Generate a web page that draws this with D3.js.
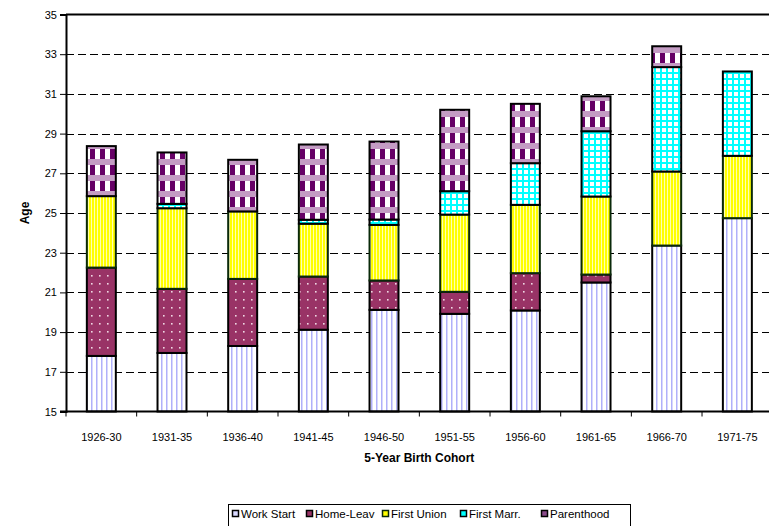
<!DOCTYPE html>
<html>
<head>
<meta charset="utf-8">
<script src="https://cdn.jsdelivr.net/npm/d3@7"></script>
<style>
  body { margin: 0; background: #fff; }
  svg { display: block; font-family: "Liberation Sans", Arial, sans-serif; }
</style>
</head>
<body>
<div id="chart"></div>
<script>
// data (segment lengths in years, stacked)
const cohorts = ['1926-30', '1931-35', '1936-40', '1941-45', '1946-50', '1951-55', '1956-60', '1961-65', '1966-70', '1971-75'];
const workStart  = [17.8, 17.95, 18.3, 19.12, 20.12, 19.92, 20.09, 21.5, 23.36, 24.74];
const homeLeave  = [4.45, 3.23, 3.38, 2.68, 1.48, 1.11, 1.88, 0.4, 0, 0];
const firstUnion = [3.6, 4.06, 3.4, 2.66, 2.8, 3.89, 3.44, 3.93, 3.73, 3.14];
const firstMarr  = [0, 0.22, 0, 0.2, 0.27, 1.18, 2.1, 3.29, 5.26, 4.25];
const parenthood = [2.52, 2.59, 2.6, 3.79, 3.93, 4.1, 2.99, 1.76, 1.05, 0];
const seriesNames = ['Work Start', 'Home-Leav', 'First Union', 'First Marr.', 'Parenthood'];
const yTicks = [15, 17, 19, 21, 23, 25, 27, 29, 31, 33, 35];

const width = 769, height = 526;
const margin = { top: 14.5, left: 66, bottom: 411.5, right: 772.7 };

const rows = cohorts.map((c, i) => ({
  cohort: c,
  'Work Start': workStart[i],
  'Home-Leav': homeLeave[i],
  'First Union': firstUnion[i],
  'First Marr.': firstMarr[i],
  'Parenthood': parenthood[i]
}));

const svg = d3.select('#chart').append('svg')
  .attr('width', width)
  .attr('height', height);

// fill patterns
const defs = svg.append('defs');

let p = defs.append('pattern').attr('id', 'pat0').attr('patternUnits', 'userSpaceOnUse')
  .attr('width', 5).attr('height', 5);
p.append('rect').attr('width', 5).attr('height', 5).attr('fill', '#fff');
p.append('rect').attr('x', 1).attr('width', 1.5).attr('height', 5).attr('fill', '#b0b0fa');

p = defs.append('pattern').attr('id', 'pat1').attr('patternUnits', 'userSpaceOnUse')
  .attr('width', 8).attr('height', 8);
p.append('rect').attr('width', 8).attr('height', 8).attr('fill', '#993366');
p.append('rect').attr('x', 3).attr('y', 3).attr('width', 1.6).attr('height', 1.6).attr('fill', '#f0d8e4');

p = defs.append('pattern').attr('id', 'pat2').attr('patternUnits', 'userSpaceOnUse')
  .attr('width', 3).attr('height', 3);
p.append('rect').attr('width', 3).attr('height', 3).attr('fill', '#ffff00');
p.append('rect').attr('x', 1).attr('width', 1).attr('height', 3).attr('fill', '#ffffb0');

p = defs.append('pattern').attr('id', 'pat3').attr('patternUnits', 'userSpaceOnUse')
  .attr('width', 6).attr('height', 6);
p.append('rect').attr('width', 6).attr('height', 6).attr('fill', '#00ffff');
p.append('rect').attr('x', 2).attr('y', 2).attr('width', 4).attr('height', 4).attr('fill', '#fff');

p = defs.append('pattern').attr('id', 'pat4').attr('patternUnits', 'userSpaceOnUse')
  .attr('width', 10).attr('height', 16);
p.append('rect').attr('width', 10).attr('height', 16).attr('fill', '#c49cc4');
p.append('rect').attr('y', 5).attr('width', 5).attr('height', 10).attr('fill', '#660066');
p.append('rect').attr('x', 5).attr('y', 5).attr('width', 5).attr('height', 10).attr('fill', '#fff');

const fills = ['url(#pat0)', 'url(#pat1)', 'url(#pat2)', 'url(#pat3)', 'url(#pat4)'];
const strokes = ['#000', '#000', '#0a2a0a', '#000', '#000'];
const swatchFills = ['#d8d8ff', '#993366', '#ffff00', '#00ffff', '#8a4a8a'];

// scales
const x = d3.scaleBand().domain(cohorts).range([margin.left, margin.right])
  .paddingInner(0.59).paddingOuter(0.295);
const y = d3.scaleLinear().domain([15, 35]).range([margin.bottom, margin.top]);

// gridlines
svg.append('g')
  .selectAll('line')
  .data(yTicks.filter(t => t > 15 && t < 35))
  .join('line')
  .attr('x1', margin.left).attr('x2', width)
  .attr('y1', d => Math.round(y(d)) + 0.5).attr('y2', d => Math.round(y(d)) + 0.5)
  .attr('stroke', '#000')
  .attr('stroke-dasharray', '8,4');

// stacked bars
const stack = d3.stack().keys(seriesNames);
const layers = stack(rows);

svg.append('g')
  .selectAll('g')
  .data(layers)
  .join('g')
  .attr('fill', (d, i) => fills[i])
  .attr('stroke', (d, i) => strokes[i])
  .attr('stroke-width', 2)
  .selectAll('rect')
  .data(d => d.filter(s => s[1] - s[0] > 0))
  .join('rect')
  .attr('x', d => x(d.data.cohort))
  .attr('width', x.bandwidth())
  .attr('y', d => y(d[1]))
  .attr('height', d => y(Math.max(d[0], 15)) - y(d[1]));

// top frame line
svg.append('line')
  .attr('x1', margin.left).attr('x2', width)
  .attr('y1', margin.top).attr('y2', margin.top)
  .attr('stroke', '#000').attr('stroke-width', 2);

// axes
const yAxis = svg.append('g')
  .attr('transform', `translate(${margin.left},0)`)
  .call(d3.axisLeft(y).tickValues(yTicks).tickSize(6).tickPadding(3));
yAxis.select('.domain').attr('stroke-width', 2);
yAxis.selectAll('text').attr('font-size', 11).attr('fill', '#000')
  .style('font-family', '"Liberation Sans", Arial, sans-serif');

const xAxis = svg.append('g')
  .attr('transform', `translate(0,${margin.bottom})`)
  .call(d3.axisBottom(x).tickSize(0).tickPadding(22));
xAxis.select('.domain').attr('stroke-width', 2)
  .attr('d', `M${margin.left - 6},0H${width}`);
xAxis.selectAll('text').attr('font-size', 11).attr('fill', '#000')
  .style('font-family', '"Liberation Sans", Arial, sans-serif');
// tick marks between categories
xAxis.append('g')
  .selectAll('line')
  .data(cohorts.map((c, i) => margin.left + i * x.step()).concat([margin.left + cohorts.length * x.step()]))
  .join('line')
  .attr('x1', d => d).attr('x2', d => d)
  .attr('y1', 0).attr('y2', 5)
  .attr('stroke', '#000');

// axis titles
svg.append('text')
  .attr('x', (margin.left + margin.right) / 2)
  .attr('y', 462)
  .attr('text-anchor', 'middle')
  .attr('font-size', 12).attr('font-weight', 'bold')
  .text('5-Year Birth Cohort');

svg.append('text')
  .attr('transform', `translate(29,${(margin.top + margin.bottom) / 2}) rotate(-90)`)
  .attr('text-anchor', 'middle')
  .attr('font-size', 12).attr('font-weight', 'bold')
  .text('Age');

// legend
const legend = svg.append('g');
legend.append('rect')
  .attr('x', 228.5).attr('y', 504.5).attr('width', 402).attr('height', 24)
  .attr('fill', '#fff').attr('stroke', '#000');
const legendX = [232, 306, 382, 460, 541];
const item = legend.selectAll('g.item')
  .data(seriesNames)
  .join('g')
  .attr('class', 'item')
  .attr('transform', (d, i) => `translate(${legendX[i]},510)`);
item.append('rect')
  .attr('x', 0.5).attr('y', 0.5).attr('width', 6).attr('height', 6)
  .attr('fill', (d, i) => swatchFills[i])
  .attr('stroke', (d, i) => strokes[i]).attr('stroke-width', 1.5);
item.append('text')
  .attr('x', 9).attr('y', 8)
  .attr('font-size', 11.5)
  .text(d => d);
</script>
</body>
</html>
